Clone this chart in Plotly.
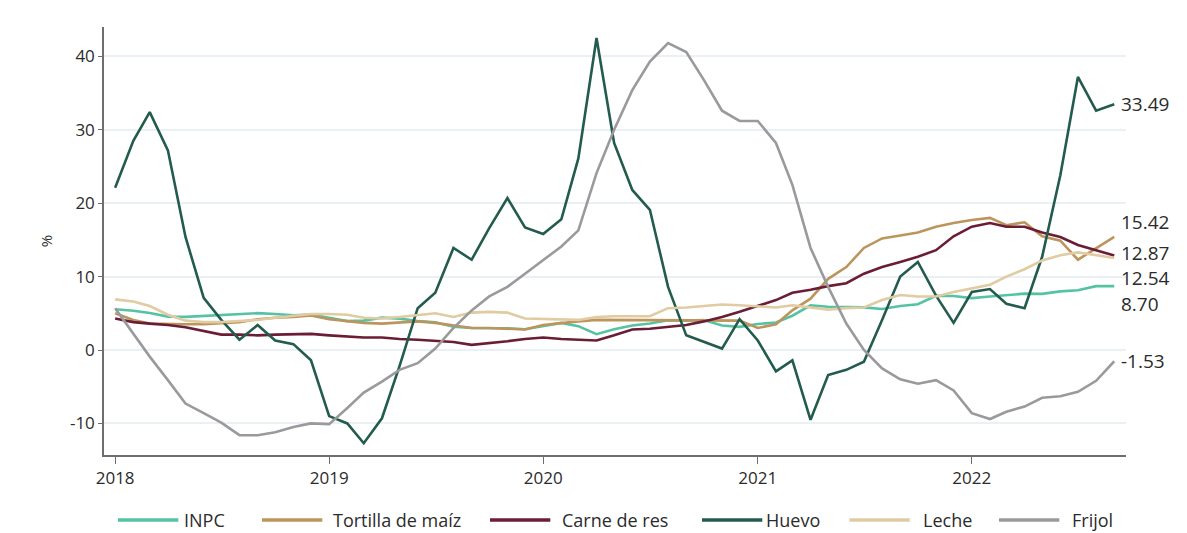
import pandas as pd
import plotly.graph_objects as go

# Monthly year-over-year inflation, Jan 2018 - Sep 2022 (%)
months = pd.date_range("2018-01-01", "2022-09-01", freq="MS")

inpc = [5.55, 5.34, 5.04, 4.55, 4.51, 4.65, 4.81, 4.90, 5.02, 4.90, 4.72, 4.83,
        4.37, 3.94, 4.00, 4.41, 4.28, 3.95, 3.78, 3.16, 3.00, 3.02, 2.97, 2.83,
        3.24, 3.70, 3.25, 2.15, 2.84, 3.33, 3.62, 4.05, 4.01, 4.09, 3.33, 3.15,
        3.54, 3.76, 4.67, 6.08, 5.89, 5.88, 5.81, 5.59, 6.00, 6.24, 7.37, 7.36,
        7.07, 7.28, 7.45, 7.68, 7.65, 7.99, 8.15, 8.70, 8.70]

tortilla = [5.0, 4.1, 3.6, 3.5, 3.5, 3.5, 3.6, 3.8, 4.2, 4.4, 4.5, 4.7,
            4.2, 3.9, 3.7, 3.6, 3.7, 3.9, 3.7, 3.3, 3.0, 3.0, 2.9, 2.8,
            3.4, 3.7, 3.9, 4.1, 4.1, 4.1, 4.0, 4.0, 4.1, 4.0, 4.0, 4.0,
            3.0, 3.5, 5.4, 7.0, 9.7, 11.3, 13.9, 15.2, 15.6, 16.0, 16.8, 17.3,
            17.7, 18.0, 17.0, 17.4, 15.5, 14.9, 12.3, 13.9, 15.42]

carne = [4.3, 3.8, 3.6, 3.4, 3.1, 2.6, 2.1, 2.1, 2.0, 2.1, 2.2, 2.2,
         2.0, 1.8, 1.7, 1.7, 1.5, 1.4, 1.3, 1.1, 0.7, 0.9, 1.2, 1.5,
         1.7, 1.5, 1.4, 1.3, 2.0, 2.8, 2.9, 3.1, 3.4, 3.9, 4.5, 5.2,
         6.0, 6.8, 7.8, 8.2, 8.7, 9.1, 10.4, 11.3, 12.0, 12.7, 13.6, 15.5,
         16.8, 17.3, 16.8, 16.8, 16.0, 15.4, 14.3, 13.6, 12.87]

huevo = [22.1, 28.5, 32.4, 27.2, 15.4, 7.1, 4.1, 1.4, 3.4, 1.3, 0.8, -1.4,
         -9.0, -10.0, -12.7, -9.3, -2.2, 5.7, 7.8, 13.9, 12.3, 16.6, 20.7, 16.7,
         15.8, 17.8, 26.1, 42.5, 28.2, 21.8, 19.1, 8.6, 2.0, 1.1, 0.2, 4.2,
         1.3, -2.9, -1.4, -9.5, -3.4, -2.7, -1.6, 4.1, 10.0, 12.0, 7.4, 3.7,
         7.9, 8.3, 6.3, 5.7, 12.7, 23.8, 37.2, 32.6, 33.49]

leche = [6.9, 6.6, 6.0, 4.8, 4.0, 3.8, 3.8, 3.9, 4.1, 4.4, 4.7, 4.9,
         4.9, 4.8, 4.4, 4.3, 4.5, 4.8, 5.0, 4.5, 5.1, 5.2, 5.1, 4.3,
         4.2, 4.1, 4.1, 4.5, 4.6, 4.6, 4.6, 5.7, 5.8, 6.0, 6.2, 6.1,
         5.9, 5.8, 6.1, 5.8, 5.5, 5.7, 5.8, 6.8, 7.5, 7.3, 7.3, 7.9,
         8.4, 8.9, 10.0, 11.0, 12.2, 12.9, 13.3, 12.9, 12.54]

frijol = [5.7, 2.2, -0.9, -4.1, -7.3, -8.6, -9.9, -11.6, -11.6, -11.2, -10.5, -10.0,
          -10.1, -7.9, -5.8, -4.3, -2.7, -1.8, 0.2, 3.0, 5.4, 7.3, 8.6, 10.4,
          12.2, 14.1, 16.3, 24.1, 30.0, 35.4, 39.3, 41.8, 40.6, 36.8, 32.6, 31.2,
          31.2, 28.2, 22.5, 13.9, 8.6, 3.6, 0.0, -2.5, -4.0, -4.6, -4.1, -5.5,
          -8.6, -9.4, -8.4, -7.7, -6.5, -6.3, -5.7, -4.2, -1.53]

series_names = ["INPC", "Tortilla de maíz", "Carne de res", "Huevo", "Leche", "Frijol"]
series_values = [inpc, tortilla, carne, huevo, leche, frijol]
series_colors = ["#55c3a3", "#bc955c", "#6b1d35", "#235b4e", "#e0cba3", "#9a9a9c"]

year_ticks = ["2018-01-01", "2019-01-01", "2020-01-01", "2021-01-01", "2022-01-01"]
year_labels = ["2018", "2019", "2020", "2021", "2022"]
y_ticks = [-10, 0, 10, 20, 30, 40]
y_labels = ["-10", "0", "10", "20", "30", "40"]

# vertical pixel nudges so the end-of-line labels don't collide
label_shift = [-18, 15, 3, 0, -20, 0]

# hand-laid legend row below the chart: line sample start (paper x) and text start
legend_line_x = [0.0137, 0.1546, 0.3777, 0.5851, 0.7294, 0.8757]
legend_text_x = [0.0763, 0.2221, 0.4462, 0.6458, 0.7999, 0.9452]
LEGEND_LINE_LEN = 0.059
LEGEND_Y = -0.152

FONT = "Open Sans"
TEXT = "#2b2b2b"
AXIS = "#6e6e6e"

fig = go.Figure()
for name, vals, color in zip(series_names, series_values, series_colors):
    fig.add_trace(go.Scatter(x=months, y=vals, name=name, mode="lines",
                             line=dict(color=color, width=2.6)))

for vals, dy in zip(series_values, label_shift):
    fig.add_annotation(x=months[-1], y=vals[-1], text=f"{vals[-1]:.2f}",
                       showarrow=False, xanchor="left", yanchor="middle",
                       xshift=6, yshift=dy, borderpad=0,
                       font=dict(family=FONT, size=19, color=TEXT))

for name, color, lx, tx in zip(series_names, series_colors, legend_line_x, legend_text_x):
    fig.add_shape(type="line", xref="paper", yref="paper",
                  x0=lx, x1=lx + LEGEND_LINE_LEN, y0=LEGEND_Y, y1=LEGEND_Y,
                  line=dict(color=color, width=3.5))
    fig.add_annotation(xref="paper", yref="paper", x=tx, y=LEGEND_Y, text=name,
                       showarrow=False, xanchor="left", yanchor="middle",
                       font=dict(family=FONT, size=18, color=TEXT))

fig.update_layout(
    width=1187, height=533,
    margin=dict(l=104, r=61, t=27, b=78),
    paper_bgcolor="white", plot_bgcolor="white",
    font=dict(family=FONT, size=16, color=TEXT),
    showlegend=False,
    xaxis=dict(
        range=["2017-12-13", "2022-09-21"],
        tickvals=year_ticks, ticktext=year_labels,
        showgrid=False, zeroline=False,
        showline=True, linecolor=AXIS, linewidth=1.5,
        ticks="outside", ticklen=7, tickcolor=AXIS,
        tickfont=dict(size=17, color=TEXT),
    ),
    yaxis=dict(
        range=[-14.3, 44],
        tickvals=y_ticks, ticktext=y_labels,
        showgrid=True, gridcolor="#eaf0f4", gridwidth=1.5,
        zeroline=False,
        showline=True, linecolor=AXIS, linewidth=1.5,
        ticks="outside", ticklen=4, tickcolor=AXIS,
        tickfont=dict(size=17, color=TEXT),
        title=dict(text="%", font=dict(size=15, color=TEXT), standoff=14),
    ),
)

fig.write_html("out.html")
